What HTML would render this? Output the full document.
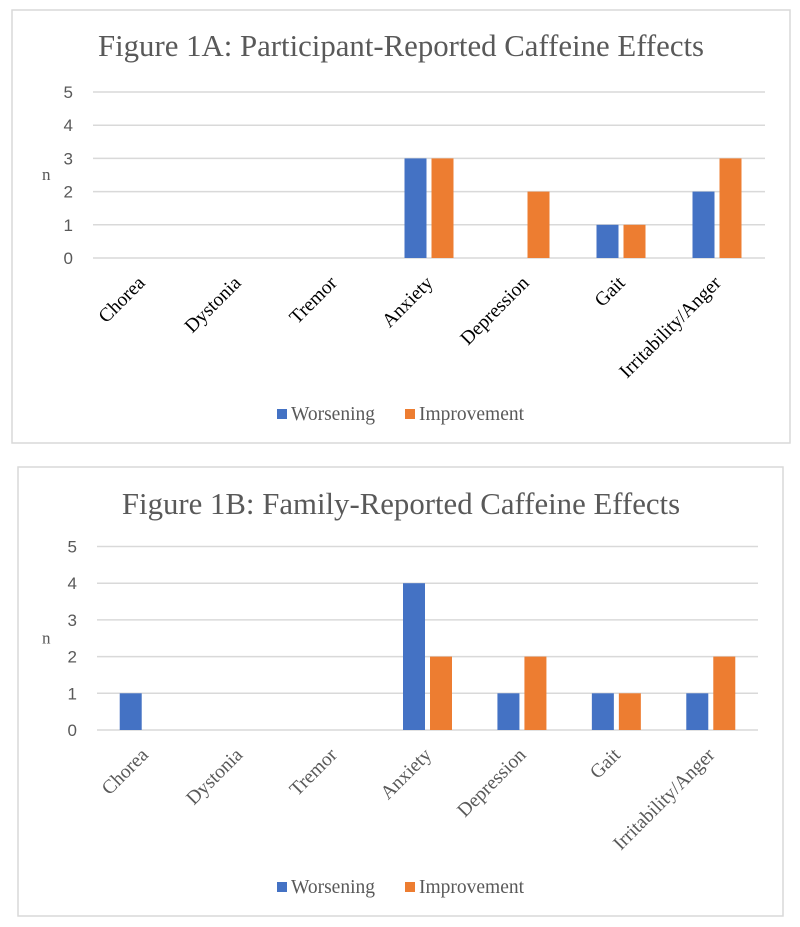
<!DOCTYPE html>
<html><head><meta charset="utf-8"><style>
body{margin:0;background:#fff;width:800px;height:927px;overflow:hidden}
svg{position:absolute;left:0;top:0}
</style></head><body>
<svg id="s" width="800" height="927" xmlns="http://www.w3.org/2000/svg"></svg>
<script>
const categories=["Chorea","Dystonia","Tremor","Anxiety","Depression","Gait","Irritability/Anger"];
const ticks=[0,1,2,3,4,5];
const worseningA=[0,0,0,3,0,1,2];
const improvementA=[0,0,0,3,2,1,3];
const worseningB=[1,0,0,4,1,1,1];
const improvementB=[0,0,0,2,2,1,2];
const NS="http://www.w3.org/2000/svg";
const svg=document.getElementById('s');
function el(tag,attrs,parent,text){const e=document.createElementNS(NS,tag);for(const k in attrs)e.setAttribute(k,attrs[k]);if(text!==undefined)e.textContent=text;(parent||svg).appendChild(e);return e;}
function chart(cfg){
  const g=el('g',{});
  
  
  const f=el('rect',{x:cfg.fx,y:cfg.fy,width:cfg.fw,height:cfg.fh,fill:'#fff',stroke:'#d9d9d9','stroke-width':1.5},g);
  
  const t=el('text',{x:cfg.tx,y:cfg.ty,'font-family':'Liberation Serif, serif','font-size':30.8,fill:'#595959','text-anchor':'middle'},g,cfg.title);
  
  const y=v=>cfg.y0-v*cfg.unit;
  const step=(cfg.x1-cfg.x0)/categories.length;
  const x=i=>cfg.x0+step*(i+0.5);
  ticks.forEach(v=>{
    const l=el('line',{x1:cfg.x0,x2:cfg.x1,y1:y(v),y2:y(v),stroke:'#d9d9d9','stroke-width':1.5},g);
    
    const tl=el('text',{x:cfg.x0-20,y:y(v)+6,'font-family':'Liberation Sans, sans-serif','font-size':17,fill:'#595959','text-anchor':'end'},g,String(v));
    
  });
  const n=el('text',{x:cfg.fx+cfg.nx,y:y(2.5)+5,'font-family':'Liberation Serif, serif','font-size':17,fill:'#595959'},g,'n');
  
  const bw=22,gap=5;
  categories.forEach((c,i)=>{
    const cx=x(i);
    if(cfg.w[i]>0){const b=el('rect',{x:cx-gap/2-bw,y:y(cfg.w[i]),width:bw,height:cfg.w[i]*cfg.unit,fill:'#4472c4'},g);
      }
    if(cfg.im[i]>0){const b=el('rect',{x:cx+gap/2,y:y(cfg.im[i]),width:bw,height:cfg.im[i]*cfg.unit,fill:'#ed7d31'},g);
      }
    const ax=cx+5, ay=cfg.y0+26;
    const lt=el('text',{x:ax,y:ay,'font-family':'Liberation Serif, serif','font-size':19.5,fill:cfg.labColor,'text-anchor':'end',transform:`rotate(-45 ${ax} ${ay})`},g,c);
    
  });
  const lg=el('g',{},g);
  
  const ly=cfg.ly;
  const r1=el('rect',{x:277,y:ly-11,width:10,height:10,fill:'#4472c4'},lg);
  
  const t1=el('text',{x:291,y:ly,'font-family':'Liberation Serif, serif','font-size':19.5,fill:'#595959'},lg,'Worsening');
  
  const r2=el('rect',{x:405,y:ly-11,width:10,height:10,fill:'#ed7d31'},lg);
  
  const t2=el('text',{x:419,y:ly,'font-family':'Liberation Serif, serif','font-size':19.5,fill:'#595959'},lg,'Improvement');
  
}
chart({name:'chart-1a',fx:12,fy:10,fw:778,fh:433,tx:401,ty:56,title:'Figure 1A: Participant-Reported Caffeine Effects',
  x0:93,x1:765,y0:258,unit:33.2,nx:30,w:worseningA,im:improvementA,labColor:'#000',ly:420});
chart({name:'chart-1b',fx:18,fy:467,fw:765,fh:449,tx:401,ty:514,title:'Figure 1B: Family-Reported Caffeine Effects',
  x0:97,x1:758,y0:730,unit:36.7,nx:24,w:worseningB,im:improvementB,labColor:'#595959',ly:893});
</script>
</body></html>
